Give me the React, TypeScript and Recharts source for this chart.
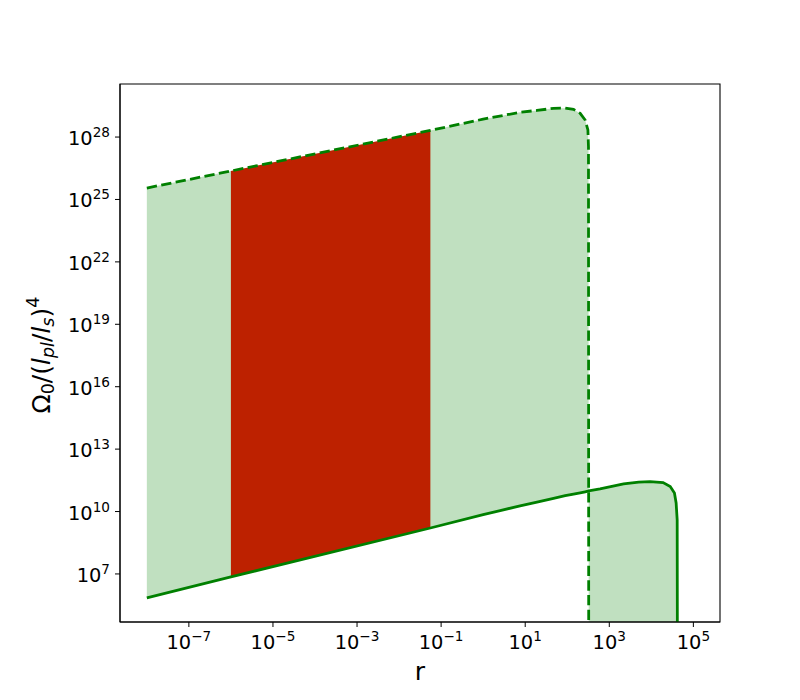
import React from 'react';
import { ComposedChart, Area, Line, XAxis, YAxis, ReferenceArea } from 'recharts';

// r values (x)
const rValues = [
  1e-8, 1e-6, 0.0555, 1, 7.55, 19.05, 47.2, 89.5, 141, 203, 267, 310, 320, 324,
  603, 2188, 5012, 9333, 19050, 28180, 35480, 38900, 41210, 41690,
];
// dashed upper curve
const upperOmega = [
  3.55e25, 2.34e26, 2.09e28, 7.24e28, 1.55e29, 1.91e29, 2.4e29, 2.45e29, 2.14e29, 1.38e29,
  6.6e28, 2.19e28, 3.4e27, 1e3,
  1e3, 1e3, 1e3, 1e3, 1e3, 1e3, 1e3, 1e3, 1e3, 1e3,
];
// solid lower curve
const lowerOmega = [
  7.1e5, 7.2e6, 1.62e9, 7.1e9, 1.86e10, 2.82e10, 4.27e10, 5.75e10, 6.92e10, 7.94e10,
  8.91e10, 9.55e10, 9.77e10, 9.77e10,
  1.23e11, 2.14e11, 2.57e11, 2.75e11, 2.45e11, 1.58e11, 7.8e10, 2.57e10, 3.98e9, 1e3,
];
const redFrom = 1e-6;
const redTo = 0.0555;

const xTicks = [1e-7, 1e-5, 1e-3, 1e-1, 1e1, 1e3, 1e5];
const yTicks = [1e7, 1e10, 1e13, 1e16, 1e19, 1e22, 1e25, 1e28];
const xDomain = [2.3e-9, 4.3e5];
const yDomain = [4.9e4, 3.55e30];

const data = rValues.map((r, i) => ({
  r,
  upper: upperOmega[i],
  lower: lowerOmega[i],
  band: [lowerOmega[i], upperOmega[i]],
  red: r >= redFrom && r <= redTo ? [lowerOmega[i], upperOmega[i]] : null,
}));

const FONT = 'DejaVu Sans';

const expText = (v: number) => {
  const e = Math.round(Math.log10(v));
  return e < 0 ? '\u2212' + String(-e) : String(e);
};

const XTick = (props: any) => {
  const { x, payload } = props;
  return (
    <text x={x} y={649} textAnchor="middle" fontFamily={FONT} fontSize={19.4} fill="#000">
      <tspan>10</tspan>
      <tspan dy={-8} fontSize={13.6}>{expText(payload.value)}</tspan>
    </text>
  );
};

const YTick = (props: any) => {
  const { y, payload } = props;
  return (
    <text x={110} y={y + 8} textAnchor="end" fontFamily={FONT} fontSize={19.4} fill="#000">
      <tspan>10</tspan>
      <tspan dy={-8} fontSize={13.6}>{expText(payload.value)}</tspan>
    </text>
  );
};

export default function App() {
  return (
    <div style={{ position: 'absolute', left: 0, top: 0, width: 800, height: 700, background: '#fff' }}>
      <ComposedChart
        width={800}
        height={700}
        data={data}
        margin={{ top: 84, right: 80, bottom: 0, left: 0 }}
      >
        <XAxis
          dataKey="r"
          type="number"
          scale="log"
          domain={xDomain}
          allowDataOverflow
          ticks={xTicks}
          tick={<XTick />}
          tickSize={5}
          height={78}
          axisLine={{ stroke: '#000' }}
          tickLine={{ stroke: '#000' }}
          interval={0}
        />
        <YAxis
          type="number"
          scale="log"
          domain={yDomain}
          allowDataOverflow
          ticks={yTicks}
          tick={<YTick />}
          tickSize={5}
          width={120}
          axisLine={{ stroke: '#000' }}
          tickLine={{ stroke: '#000' }}
          interval={0}
        />
        <Area
          dataKey="band"
          type="linear"
          stroke="none"
          fill="#c0e0c0"
          fillOpacity={1}
          isAnimationActive={false}
          dot={false}
          activeDot={false}
        />
        <Area
          dataKey="red"
          type="linear"
          stroke="none"
          fill="#bd2100"
          fillOpacity={1}
          isAnimationActive={false}
          dot={false}
          activeDot={false}
        />
        <Line
          dataKey="lower"
          type="linear"
          stroke="#008000"
          strokeWidth={2.78}
          dot={false}
          activeDot={false}
          isAnimationActive={false}
        />
        <Line
          dataKey="upper"
          type="linear"
          stroke="#008000"
          strokeWidth={2.78}
          strokeDasharray="10.3 4.4"
          dot={false}
          activeDot={false}
          isAnimationActive={false}
        />
        <ReferenceArea
          x1={xDomain[0]}
          x2={xDomain[1]}
          y1={yDomain[0]}
          y2={yDomain[1]}
          fill="none"
          stroke="#000"
          strokeWidth={1.1}
          ifOverflow="visible"
        />
        <text x={420} y={680} textAnchor="middle" fontFamily={FONT} fontSize={25} fill="#000">r</text>
        <text transform="translate(50,355) rotate(-90)" textAnchor="middle" fontFamily={FONT} fontSize={25} fill="#000">
          <tspan>Ω</tspan>
          <tspan fontSize={17.5} dy={4}>0</tspan>
          <tspan dy={-4}>/(</tspan>
          <tspan fontStyle="italic">l</tspan>
          <tspan fontStyle="italic" fontSize={17.5} dy={4}>pl</tspan>
          <tspan dy={-4}>/</tspan>
          <tspan fontStyle="italic">l</tspan>
          <tspan fontStyle="italic" fontSize={17.5} dy={4}>s</tspan>
          <tspan dy={-4}>)</tspan>
          <tspan fontSize={17.5} dy={-11}>4</tspan>
        </text>
      </ComposedChart>
    </div>
  );
}
